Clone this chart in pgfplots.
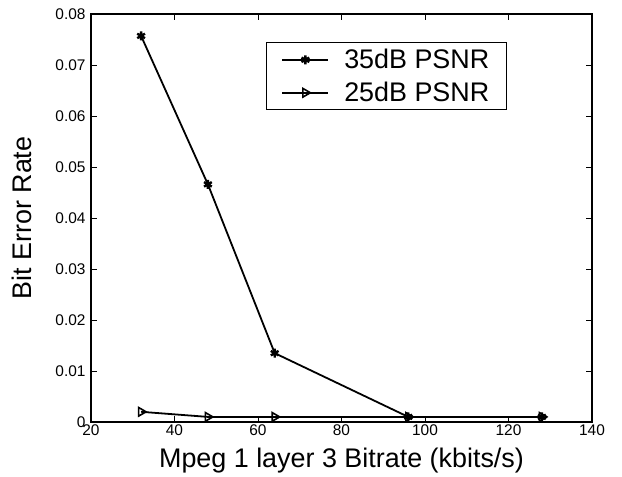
\documentclass[border=0pt]{standalone}
\usepackage{fontspec}
\setmainfont{Liberation Sans}
\usepackage{pgfplots}
\pgfplotsset{compat=1.18}
\begin{document}
\begin{tikzpicture}[x=1bp,y=1bp]
\begin{axis}[
  scale only axis, width=501bp, height=408bp,
  xmin=20, xmax=140, ymin=0, ymax=0.08,
  xtick={20,40,...,140},
  ytick={0,0.01,0.02,0.03,0.04,0.05,0.06,0.07,0.08},
  yticklabels={0,0.01,0.02,0.03,0.04,0.05,0.06,0.07,0.08},
  scaled y ticks=false,
  /pgf/number format/assume math mode=true,
  tick align=inside, major tick length=6bp,
  ticklabel style={font=\fontsize{15.5}{18}\selectfont},
  xticklabel style={yshift=1bp},
  yticklabel style={xshift=-2bp},
  xlabel={Mpeg 1 layer 3 Bitrate (kbits/s)},
  ylabel={Bit Error Rate},
  label style={font=\fontsize{27}{32}\selectfont},
  xlabel style={yshift=-6bp},
  ylabel style={yshift=17bp},
  axis line style={line width=1.4pt},
  every tick/.style={black, line width=1pt},
  legend style={at={(0.349,0.931)}, anchor=north west, draw=black, line width=1.3pt,
    font=\fontsize{27}{30}\selectfont, inner xsep=15bp, inner ysep=4.5bp,
    cells={anchor=west}, row sep=8bp, column sep=13bp},
  legend image code/.code={
    \draw[mark repeat=2,mark phase=2] plot coordinates {(0bp,0bp) (23bp,0bp) (46bp,0bp)};},
]
\addplot[black, line width=1.8pt, mark=asterisk, mark size=4.5pt, mark options={line width=2.4pt}]
  coordinates {(32,0.0757) (48,0.0466) (64,0.0135) (96,0.001) (128,0.001)};
\addlegendentry{35dB PSNR}
\addplot[black, line width=1.8pt, mark=triangle, mark size=5pt, mark options={rotate=-90, line width=1.6pt}]
  coordinates {(32,0.002) (48,0.001) (64,0.001) (96,0.001) (128,0.001)};
\addlegendentry{25dB PSNR}
\end{axis}
\path (current axis.south west) ++(-91bp,-55bp) rectangle ++(622bp,477bp);
\end{tikzpicture}
\end{document}
